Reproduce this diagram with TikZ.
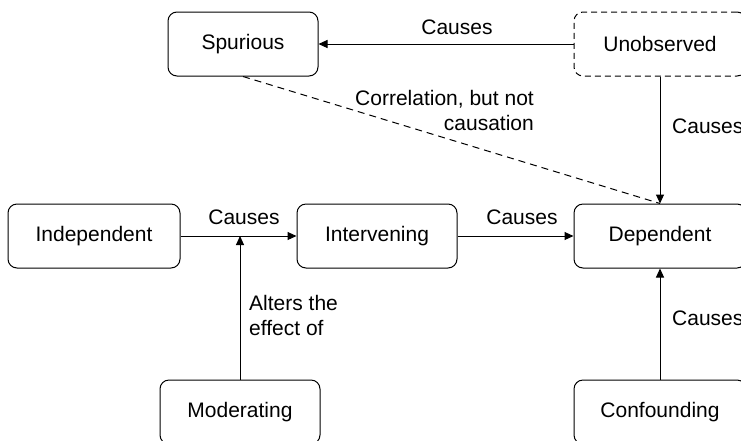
\documentclass[tikz,border=0pt]{standalone}
\usepackage{fontspec}
\setmainfont{Liberation Sans}
\usetikzlibrary{arrows.meta}
\tikzset{
	var/.style={draw, rounded corners=9pt, line width=1pt, minimum height=64pt, align=center, font=\fontsize{21}{25}\selectfont},
	arr/.style={line width=1pt, -{Triangle[length=9pt,width=8pt]}},
	lbl/.style={font=\fontsize{21}{25}\selectfont, inner sep=0pt}
}
\begin{document}
\begin{tikzpicture}[x=1pt,y=-1pt]
		\useasboundingbox (0,0) rectangle (741,440);
		\clip (0,0) rectangle (741,440);
			\node[var, minimum width=150pt] (spur) at (243,44) {Spurious};
			\node[var, dashed, dash pattern=on 6pt off 4pt, minimum width=172pt] (unob) at (660,44) {Unobserved};
			\node[var, minimum width=172pt] (indep) at (94,236) {Independent};
			\node[var, minimum width=160pt] (interv) at (377,236) {Intervening};
			\node[var, minimum width=172pt] (dep) at (660,236) {Dependent};
			\node[var, minimum width=160pt] (mod) at (240,412) {Moderating};
			\node[var, minimum width=172pt] (conf) at (660,412) {Confounding};
			\coordinate (hit) at (240,236);
			\draw[arr] (unob) -- (spur);
			\draw[arr] (unob) -- (dep);
			\draw[line width=1pt, dashed, dash pattern=on 7pt off 5pt] (spur.south) -- (dep.north);
			\draw[arr] (indep) -- (interv);
			\draw[arr] (interv) -- (dep);
			\draw[arr] (mod) -- (hit);
			\draw[arr] (conf) -- (dep);
			\node[lbl] (c1) at (457,27) {Causes};
			\node[lbl, anchor=west] (c2) at (672,126) {Causes};
			\node[lbl, align=right, anchor=east] (corr) at (534,110) {Correlation, but not\\causation};
			\node[lbl] (c3) at (244,217) {Causes};
			\node[lbl] (c4) at (522,217) {Causes};
			\node[lbl, align=left, anchor=west] (alt) at (249,315) {Alters the\\effect of};
			\node[lbl, anchor=west] (c5) at (672,318) {Causes};
	\end{tikzpicture}
\end{document}
